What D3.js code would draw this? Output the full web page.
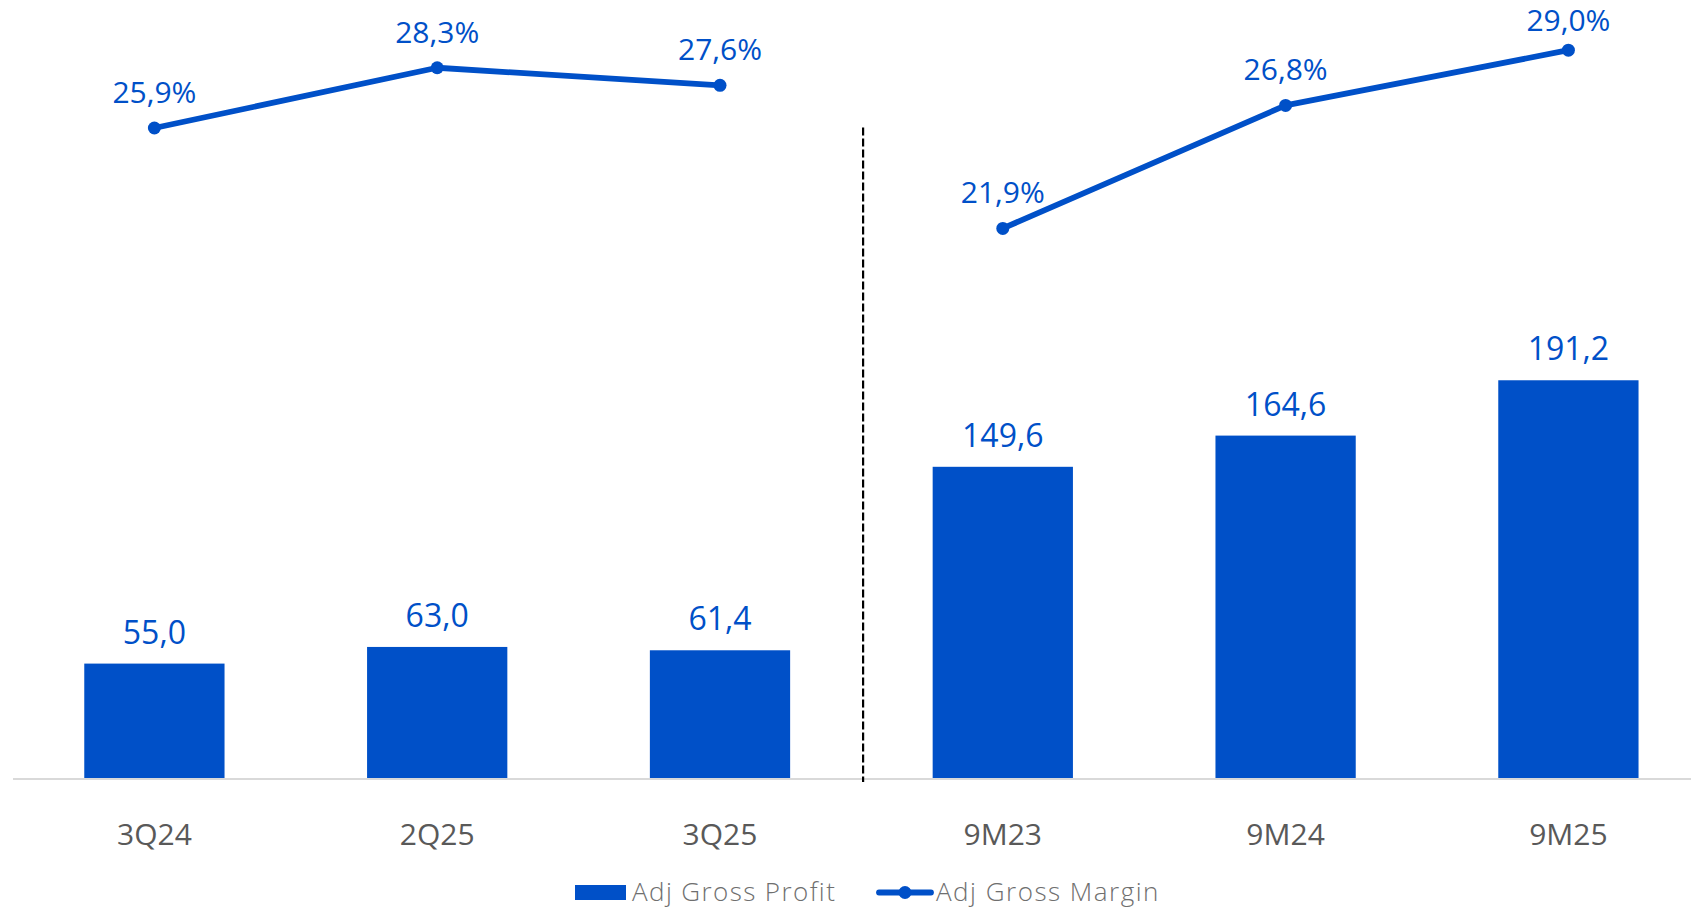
<!DOCTYPE html>
<html>
<head>
<meta charset="utf-8">
<script src="https://cdn.jsdelivr.net/npm/d3@7"></script>
<style>
  html, body { margin: 0; padding: 0; background: #ffffff; }
  svg { display: block; font-family: "Open Sans", "Noto Sans", sans-serif; }
</style>
</head>
<body>
<svg id="chart" width="1691" height="908"></svg>
<script>
const categories = ["3Q24", "2Q25", "3Q25", "9M23", "9M24", "9M25"];
const grossProfit = [55.0, 63.0, 61.4, 149.6, 164.6, 191.2];
const grossMargin = [25.9, 28.3, 27.6, 21.9, 26.8, 29.0];
const groups = [[0, 1, 2], [3, 4, 5]];
const seriesNames = ["Adj Gross Profit", "Adj Gross Margin"];

const BLUE = "#0050C8";
const fmt = v => v.toFixed(1).replace(".", ",");

const svg = d3.select("#chart");
const W = 1691, baseY = 778;

const x = d3.scaleBand().domain(categories).range([13, 13 + 6 * 282.8])
  .paddingInner(0.504).paddingOuter(0.252);
const cx = c => x(c) + x.bandwidth() / 2;
const yBar = d3.scaleLinear().domain([0, 374]).range([baseY, 0]);
const yLine = d3.scaleLinear().domain([0, 31]).range([baseY, 0]);

// bars
svg.append("g").selectAll("rect").data(categories).join("rect")
  .attr("x", d => x(d))
  .attr("y", (d, i) => yBar(grossProfit[i]))
  .attr("width", x.bandwidth())
  .attr("height", (d, i) => baseY - yBar(grossProfit[i]))
  .attr("fill", BLUE);

// baseline axis
svg.append("line").attr("x1", 13).attr("x2", W).attr("y1", 779).attr("y2", 779)
  .attr("stroke", "#d9d9d9").attr("stroke-width", 2);

// dashed separator
const sepX = (cx(categories[2]) + cx(categories[3])) / 2 + 1.7;
svg.append("line").attr("x1", sepX).attr("x2", sepX).attr("y1", 127.5).attr("y2", 782)
  .attr("stroke", "#000").attr("stroke-width", 2.2).attr("stroke-dasharray", "8,3");

// bar labels
svg.append("g").selectAll("text").data(categories).join("text")
  .attr("x", d => cx(d))
  .attr("y", (d, i) => yBar(grossProfit[i]) - 20)
  .attr("text-anchor", "middle")
  .attr("font-size", 32)
  .attr("fill", BLUE)
  .text((d, i) => fmt(grossProfit[i]));

// lines
const line = d3.line().x(i => cx(categories[i])).y(i => yLine(grossMargin[i]));
svg.append("g").selectAll("path").data(groups).join("path")
  .attr("d", g => line(g))
  .attr("fill", "none").attr("stroke", BLUE).attr("stroke-width", 5.8)
  .attr("stroke-linejoin", "round");

svg.append("g").selectAll("circle").data(categories).join("circle")
  .attr("cx", d => cx(d))
  .attr("cy", (d, i) => yLine(grossMargin[i]))
  .attr("r", 6.5).attr("fill", BLUE);

svg.append("g").selectAll("text").data(categories).join("text")
  .attr("x", d => cx(d))
  .attr("y", (d, i) => Math.max(yLine(grossMargin[i]) - 25, 31))
  .attr("text-anchor", "middle")
  .attr("font-size", 30)
  .attr("fill", BLUE)
  .text((d, i) => fmt(grossMargin[i]) + "%");

// category labels
svg.append("g").selectAll("text").data(categories).join("text")
  .attr("x", d => cx(d))
  .attr("y", 845)
  .attr("text-anchor", "middle")
  .attr("font-size", 30)
  .attr("fill", "#595959")
  .text(d => d);

// legend
const lg = svg.append("g");
lg.append("rect").attr("x", 575).attr("y", 885).attr("width", 51).attr("height", 15).attr("fill", BLUE);
lg.append("text").attr("x", 632).attr("y", 900.5).attr("font-size", 26).attr("font-weight", 300)
  .attr("letter-spacing", 1.4).attr("fill", "#6f6f6f").text(seriesNames[0]);
lg.append("line").attr("x1", 879).attr("x2", 931).attr("y1", 892.5).attr("y2", 892.5)
  .attr("stroke", BLUE).attr("stroke-width", 5.8).attr("stroke-linecap", "round");
lg.append("circle").attr("cx", 905).attr("cy", 892.5).attr("r", 6.5).attr("fill", BLUE);
lg.append("text").attr("x", 936).attr("y", 900.5).attr("font-size", 26).attr("font-weight", 300)
  .attr("letter-spacing", 1.5).attr("fill", "#6f6f6f").text(seriesNames[1]);
</script>
</body>
</html>
